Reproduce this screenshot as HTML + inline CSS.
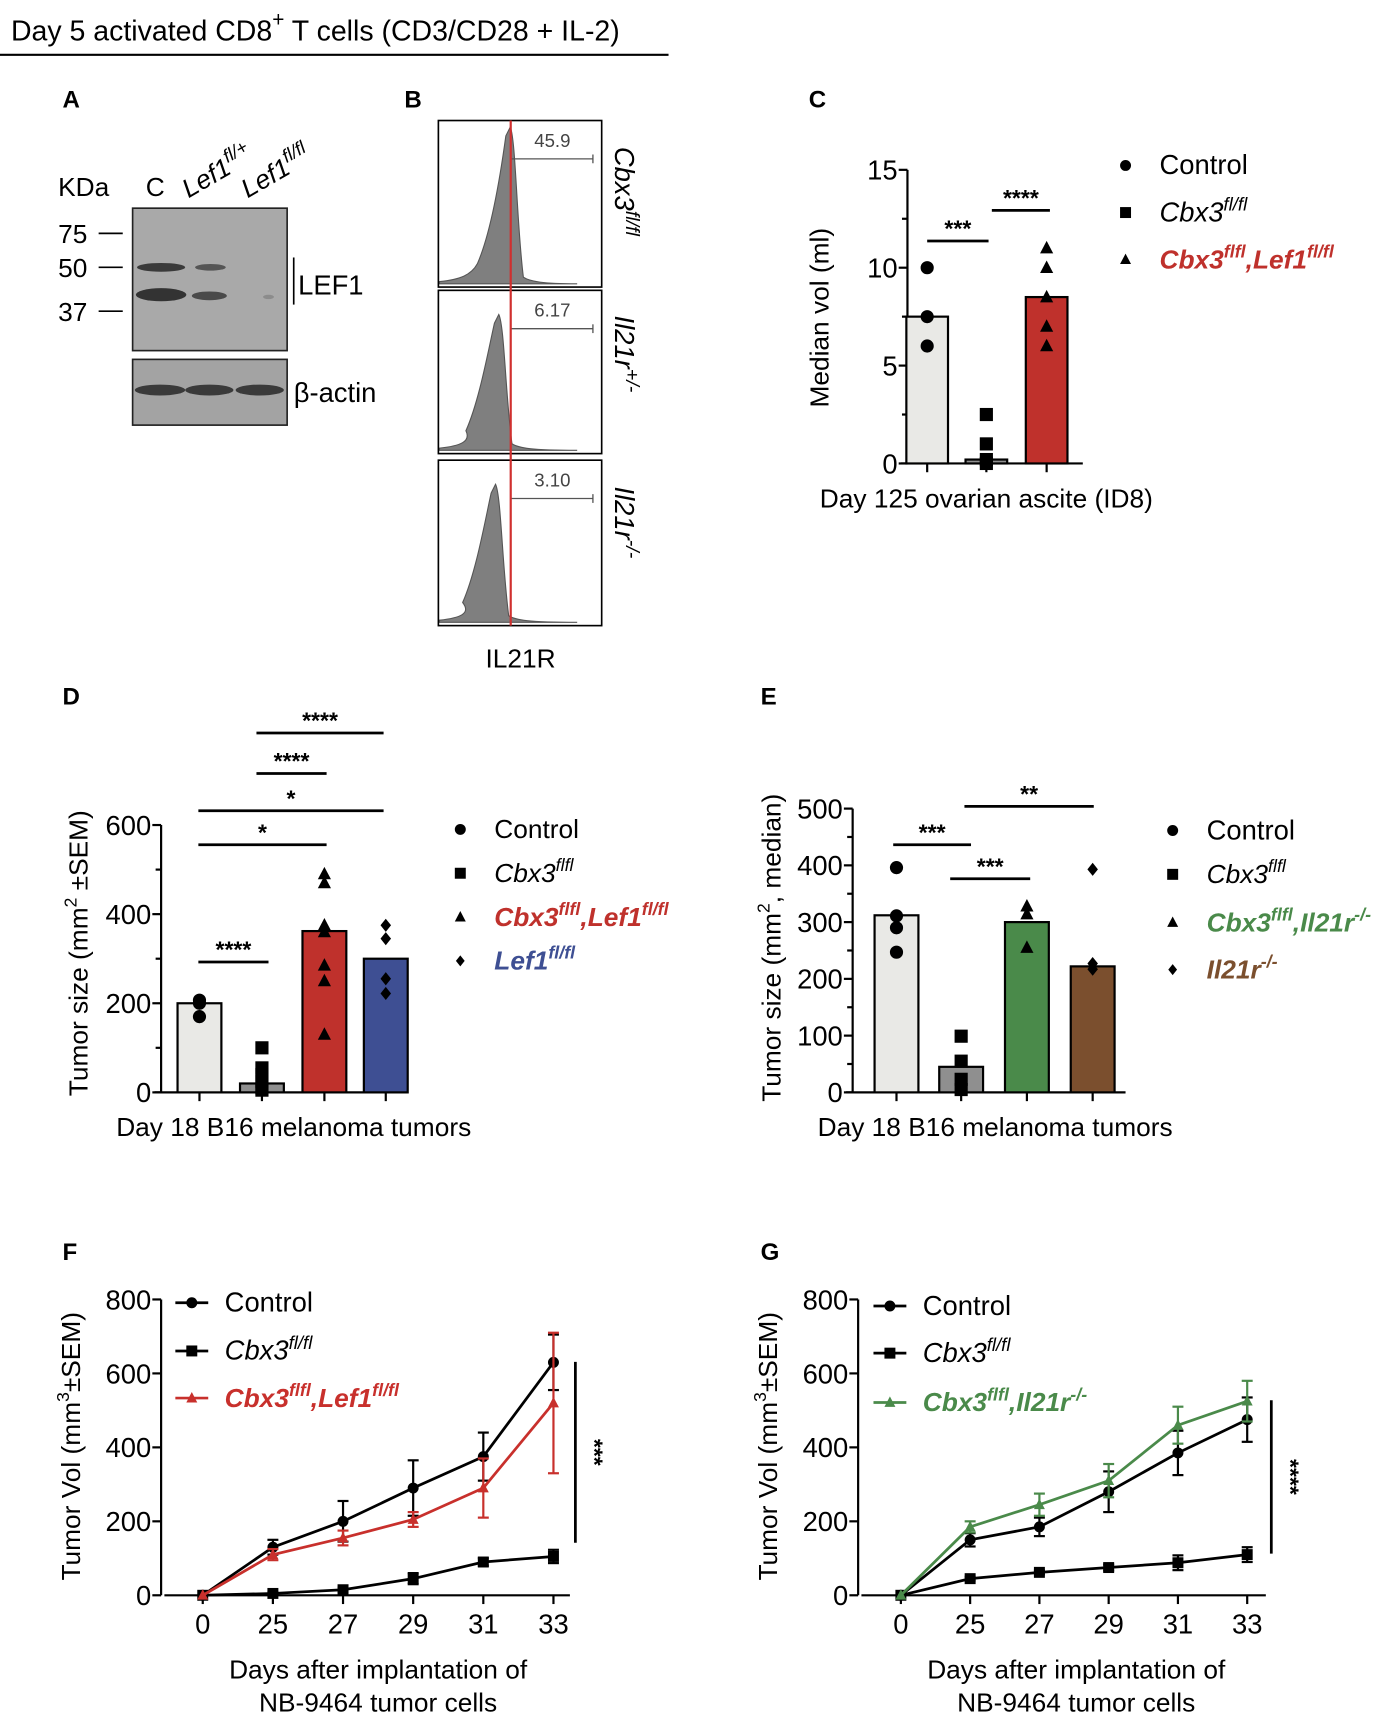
<!DOCTYPE html>
<html><head><meta charset="utf-8"><style>
html,body{margin:0;padding:0;background:#fff;}
svg{display:block;font-family:"Liberation Sans",Arial,sans-serif;}
</style></head><body>
<svg id="fig" width="1382" height="1718" viewBox="0 0 1261 1568" preserveAspectRatio="none" xmlns="http://www.w3.org/2000/svg">
<rect width="1261" height="1568" fill="#fff"/>
<g>
<text x="10" y="37" font-size="26">Day 5 activated CD8<tspan dy="-13" font-size="19">+</tspan><tspan dy="13"> T cells (CD3/CD28 + IL-2)</tspan></text>
<line x1="0" y1="50" x2="610" y2="50" stroke="#000" stroke-width="2"/>
</g>
<g>
<text x="57" y="98" font-size="22" font-weight="bold">A</text>
<text x="53" y="179" font-size="24">KDa</text>
<text x="133" y="179" font-size="24">C</text>
<text transform="translate(172,181) rotate(-30)" font-size="24" font-style="italic">Lef1<tspan dy="-10" font-size="17">fl/+</tspan></text>
<text transform="translate(226,181) rotate(-30)" font-size="24" font-style="italic">Lef1<tspan dy="-10" font-size="17">fl/fl</tspan></text>
<rect x="121" y="190" width="141" height="130" fill="#a9a9a9" stroke="#222" stroke-width="1.5"/>
<ellipse cx="147" cy="244" rx="22" ry="4" fill="#3a3a3a"/>
<ellipse cx="192" cy="244" rx="14" ry="3" fill="#555"/>
<ellipse cx="147" cy="269" rx="23" ry="6" fill="#333"/>
<ellipse cx="191" cy="270" rx="16" ry="4" fill="#4a4a4a"/>
<ellipse cx="245" cy="271" rx="5" ry="2" fill="#8c8c8c"/>
<rect x="121" y="328" width="141" height="60" fill="#a3a3a3" stroke="#222" stroke-width="1.5"/>
<ellipse cx="146" cy="356" rx="23" ry="5" fill="#3a3a3a"/>
<ellipse cx="191" cy="356" rx="22" ry="5" fill="#3a3a3a"/>
<ellipse cx="237" cy="356" rx="22" ry="5" fill="#3a3a3a"/>
<text x="53" y="222" font-size="24">75</text>
<text x="53" y="253" font-size="24">50</text>
<text x="53" y="293" font-size="24">37</text>
<line x1="90" y1="213" x2="112" y2="213" stroke="#000" stroke-width="1.5"/>
<line x1="90" y1="244" x2="112" y2="244" stroke="#000" stroke-width="1.5"/>
<line x1="90" y1="284" x2="112" y2="284" stroke="#000" stroke-width="1.5"/>
<line x1="268" y1="235" x2="268" y2="278" stroke="#000" stroke-width="1.5"/>
<text x="272" y="269" font-size="25">LEF1</text>
<text x="268" y="367" font-size="25">β-actin</text>
</g>
<g id="panelB">
<text x="369" y="98" font-size="22" font-weight="bold">B</text>
<text x="475" y="609" font-size="24" text-anchor="middle">IL21R</text>
</g>
<g id="panelC">
<text x="738" y="98" font-size="22" font-weight="bold">C</text>
</g>
<g id="panelD">
<text x="57" y="643" font-size="22" font-weight="bold">D</text>
</g>
<g id="panelE">
<text x="694" y="643" font-size="22" font-weight="bold">E</text>
</g>
<g id="panelF">
<text x="57" y="1150" font-size="22" font-weight="bold">F</text>
</g>
<g id="panelG">
<text x="694" y="1150" font-size="22" font-weight="bold">G</text>
</g>
</svg>
<script>
// ---------- Data ----------
const histPercents = ["45.9", "6.17", "3.10"];
const histPeakPos = [0.44, 0.37, 0.35];
const histGenotypes = ["Cbx3", "Il21r", "Il21r"];

const cCategories = ["Control", "Cbx3 fl/fl", "Cbx3 fl/fl, Lef1 fl/fl"];
const cBarValues = [7.5, 0.2, 8.5];
const cPoints = [[10, 7.5, 6], [2.5, 1, 0.2, 0], [11, 10, 8.5, 7, 6]];
const cTicks = [0, 5, 10, 15];

const dCategories = ["Control", "Cbx3 fl/fl", "Cbx3 fl/fl, Lef1 fl/fl", "Lef1 fl/fl"];
const dBarValues = [200, 20, 362, 300];
const dPoints = [[207, 200, 170], [100, 55, 40, 25, 10, 5], [490, 470, 375, 360, 285, 250, 130], [375, 345, 255, 222]];
const dTicks = [0, 200, 400, 600];

const eCategories = ["Control", "Cbx3 fl/fl", "Cbx3 fl/fl, Il21r-/-", "Il21r-/-"];
const eBarValues = [312, 45, 300, 222];
const ePoints = [[396, 311, 290, 247], [99, 55, 23, 5], [328, 314, 255], [393, 227, 217]];
const eTicks = [0, 100, 200, 300, 400, 500];

const days = [0, 25, 27, 29, 31, 33];
const fControl = [0, 130, 200, 290, 375, 630];
const fControlErr = [0, 20, 55, 75, 65, 75];
const fCbx3 = [0, 5, 15, 45, 90, 105];
const fCbx3Err = [0, 3, 5, 15, 10, 18];
const fDouble = [0, 110, 155, 205, 290, 520];
const fDoubleErr = [0, 15, 20, 20, 80, 190];
const gControl = [0, 150, 185, 280, 385, 475];
const gControlErr = [0, 18, 25, 55, 60, 60];
const gCbx3 = [0, 45, 62, 75, 88, 110];
const gCbx3Err = [0, 5, 5, 8, 20, 20];
const gDouble = [0, 185, 245, 310, 460, 525];
const gDoubleErr = [0, 15, 30, 45, 50, 55];
const lineTicks = [0, 200, 400, 600, 800];

// ---------- Helpers ----------
const NS = "http://www.w3.org/2000/svg";
function mk(tag, attrs, parent) {
  const e = document.createElementNS(NS, tag);
  for (const k in attrs) e.setAttribute(k, attrs[k]);
  parent.appendChild(e);
  return e;
}
function ln(p, x1, y1, x2, y2, sw, col) {
  const l = mk("line", {x1: x1, y1: y1, x2: x2, y2: y2, stroke: col || "#000", "stroke-width": sw || 2}, p);
  
  
  return l;
}
function txt(p, x, y, s, size, anchor) {
  const t = mk("text", {x: x, y: y, "font-size": size || 22, "text-anchor": anchor || "start"}, p);
  t.textContent = s;
  return t;
}
function marker(p, shape, x, y, s, col) {
  s = s || 6; col = col || "#000";
  let m;
  if (shape === "circle") m = mk("circle", {cx: x, cy: y, r: s, fill: col}, p);
  else if (shape === "square") m = mk("rect", {x: x - s, y: y - s, width: 2 * s, height: 2 * s, fill: col}, p);
  else if (shape === "triangle") m = mk("polygon", {points: `${x},${y - s * 1.1} ${x - s},${y + s * 0.8} ${x + s},${y + s * 0.8}`, fill: col}, p);
  else m = mk("polygon", {points: `${x},${y - s} ${x + s * 0.8},${y} ${x},${y + s} ${x - s * 0.8},${y}`, fill: col}, p);
  return m;
}
function richText(p, x, y, parts, opts) {
  const sz = opts.size || 24;
  const t = mk("text", {x: x, y: y, "font-size": sz, fill: opts.color || "#000"}, p);
  if (opts.italic) t.setAttribute("font-style", "italic");
  if (opts.bold) t.setAttribute("font-weight", "bold");
  parts.forEach(pt => {
    const a = mk("tspan", {}, t); a.textContent = pt[0];
    if (pt[1]) {
      const s = mk("tspan", {dy: -10, "font-size": sz * 0.68}, t); s.textContent = pt[1];
      const r = mk("tspan", {dy: 10}, t); r.textContent = "\u200b";
    }
  });
  return t;
}

// ---------- Panel B histograms ----------
(function () {
  const g = document.getElementById("panelB");
  const boxes = [[110, 262], [265, 414], [420, 571]];
  const bx0 = 400, bx1 = 549;
  boxes.forEach((b, i) => {
    const [y0, y1] = b;
    const w = bx1 - bx0, h = y1 - y0;
    const peak = bx0 + histPeakPos[i] * w;
    const base = y1 - 3;
    const top = y0 + (i === 0 ? 6 : 22);
    const d = `M${bx0 + 1},${base - 2} C${bx0 + 20},${base - 4} ${bx0 + 30},${base - 8} ${peak - 30},${base - h * 0.12} C${peak - 18},${base - h * 0.3} ${peak - 10},${base - h * 0.6} ${peak - 4},${top + 8} L${peak},${top} C${peak + 5},${top + 10} ${peak + 6},${base - h * 0.35} ${peak + 12},${base - 6} C${peak + 18},${base - 2} ${peak + 30},${base} ${bx0 + w * 0.85},${base} L${bx0 + 1},${base} Z`;
    const path = mk("path", {d: d, fill: "#7f7f7f", stroke: "#555", "stroke-width": 1}, g);
    
    
    const r = mk("rect", {x: bx0, y: y0, width: w, height: h, fill: "none", stroke: "#000", "stroke-width": 1.5}, g);
    
    
    ln(g, 466, y0 + 35, 541, y0 + 35, 1.2, "#555");
    ln(g, 541, y0 + 31, 541, y0 + 39, 1.2, "#555");
    const pt = txt(g, 504, y0 + 24, histPercents[i], 17, "middle");
    pt.setAttribute("fill", "#444");
    
    
  });
  ln(g, 466, 110, 466, 571, 2, "#d0302f");
  const labels = [["Cbx3", "fl/fl"], ["Il21r", "+/-"], ["Il21r", "-/-"]];
  const cy = [186, 340, 496];
  labels.forEach((l, i) => {
    const t = mk("text", {transform: `translate(561,${cy[i] - 52}) rotate(90)`, "font-size": 25, "font-style": "italic"}, g);
    const a = mk("tspan", {}, t); a.textContent = l[0];
    const s = mk("tspan", {dy: -10, "font-size": 18}, t); s.textContent = l[1];
    
    
  });
})();

// ---------- Bar charts ----------
function barChart(g, cfg, cats, vals, pts, ticks) {
  const ys = v => cfg.y0 - (v - ticks[0]) / (ticks[ticks.length - 1] - ticks[0]) * (cfg.y0 - cfg.yTop);
  ln(g, cfg.ax, cfg.yTop, cfg.ax, cfg.y0, 2);
  ln(g, cfg.ax - 6, cfg.y0, cfg.xEnd, cfg.y0, 2);
  ticks.forEach((t, i) => {
    ln(g, cfg.ax - 8, ys(t), cfg.ax, ys(t), 2);
    const tl = txt(g, cfg.ax - 9, ys(t) + 9, String(t), 25, "end");
    
    
    if (i < ticks.length - 1) {
      const mid = (t + ticks[i + 1]) / 2;
      ln(g, cfg.ax - 5, ys(mid), cfg.ax, ys(mid), 2);
    }
  });
  cats.forEach((c, i) => {
    const cx = cfg.centers[i];
    const bar = mk("rect", {x: cx - cfg.bw / 2, y: ys(vals[i]), width: cfg.bw, height: cfg.y0 - ys(vals[i]), fill: cfg.colors[i], stroke: "#000", "stroke-width": 2}, g);
    
    
    ln(g, cx, cfg.y0, cx, cfg.y0 + 8, 2);
    pts[i].forEach(v => {
      const m = marker(g, cfg.shapes[i], cx, ys(v), 6);
      
      
    });
  });
  cfg.legend.forEach((L, i) => {
    const yy = cfg.legY[i];
    const m = marker(g, cfg.shapes[i], cfg.legX, yy - 8, 5);
    
    
    const t = richText(g, cfg.legX + 31, yy, L.parts, L);
    
    
  });
  cfg.sig.forEach(s => {
    ln(g, s[0], s[2], s[1], s[2], 2.5);
    const st = txt(g, (s[0] + s[1]) / 2, s[2] - 4, s[3], 21, "middle");
    st.setAttribute("font-weight", "bold");
    
    
  });
  const xl = txt(g, cfg.xlab[0], cfg.xlab[1], cfg.xlab[2], 24, "middle");
  
  
  const yl = mk("text", {transform: `translate(${cfg.ylab[0]},${cfg.ylab[1]}) rotate(-90)`, "font-size": 24, "text-anchor": "middle"}, g);
  yl.innerHTML = cfg.ylab[2];
  
  
}

barChart(document.getElementById("panelC"), {
  ax: 828, y0: 423, yTop: 155, xEnd: 988, centers: [846, 900, 955], bw: 38,
  colors: ["#e9e9e6", "#8f8f8f", "#bf312c"], shapes: ["circle", "square", "triangle"],
  legX: 1027, legY: [159, 202, 245],
  legend: [{parts: [["Control"]], size: 25}, {parts: [["Cbx3", "fl/fl"]], italic: true, size: 25}, {parts: [["Cbx3", "flfl"], [",Lef1", "fl/fl"]], italic: true, bold: true, color: "#bf312c", size: 24}],
  sig: [[846, 902, 220, "***"], [905, 958, 192, "****"]],
  xlab: [900, 463, "Day 125 ovarian ascite (ID8)"],
  ylab: [756, 290, "Median vol (ml)"]
}, cCategories, cBarValues, cPoints, cTicks);

barChart(document.getElementById("panelD"), {
  ax: 147, y0: 997, yTop: 753, xEnd: 372, centers: [182, 239, 296, 352], bw: 40,
  colors: ["#e9e9e6", "#8f8f8f", "#bf312c", "#3e4f93"], shapes: ["circle", "square", "triangle", "diamond"],
  legX: 420, legY: [765, 805, 845, 885],
  legend: [{parts: [["Control"]]}, {parts: [["Cbx3", "flfl"]], italic: true}, {parts: [["Cbx3", "flfl"], [",Lef1", "fl/fl"]], italic: true, bold: true, color: "#bf312c"}, {parts: [["Lef1", "fl/fl"]], italic: true, bold: true, color: "#3e4f93"}],
  sig: [[181, 245, 878, "****"], [181, 298, 771, "*"], [181, 350, 740, "*"], [234, 298, 706, "****"], [234, 350, 669, "****"]],
  xlab: [268, 1037, "Day 18 B16 melanoma tumors"],
  ylab: [80, 870, "Tumor size (mm<tspan dy='-10' font-size='16'>2</tspan><tspan dy='10'> ±SEM)</tspan>"]
}, dCategories, dBarValues, dPoints, dTicks);

barChart(document.getElementById("panelE"), {
  ax: 778, y0: 997, yTop: 738, xEnd: 1027, centers: [818, 877, 937, 997], bw: 40,
  colors: ["#e9e9e6", "#8f8f8f", "#4a8a4a", "#7b4f2e"], shapes: ["circle", "square", "triangle", "diamond"],
  legX: 1070, legY: [766, 806, 850, 893],
  legend: [{parts: [["Control"]], size: 25}, {parts: [["Cbx3", "flfl"]], italic: true, size: 24}, {parts: [["Cbx3", "flfl"], [",Il21r", "-/-"]], italic: true, bold: true, color: "#4a8a4a", size: 24}, {parts: [["Il21r", "-/-"]], italic: true, bold: true, color: "#7b4f2e", size: 24}],
  sig: [[815, 886, 771, "***"], [867, 940, 802, "***"], [880, 998, 736, "**"]],
  xlab: [908, 1037, "Day 18 B16 melanoma tumors"],
  ylab: [712, 865, "Tumor size (mm<tspan dy='-10' font-size='16'>2</tspan><tspan dy='10'>, median)</tspan>"]
}, eCategories, eBarValues, ePoints, eTicks);

// ---------- Line charts ----------
function lineChart(g, cfg, series) {
  const ys = v => cfg.y0 - v / lineTicks[lineTicks.length - 1] * (cfg.y0 - cfg.yTop);
  const xs = i => cfg.x0 + i * cfg.dx;
  ln(g, cfg.ax, cfg.yTop, cfg.ax, cfg.y0, 2);
  ln(g, cfg.ax + 3, cfg.y0, cfg.xEnd, cfg.y0, 2);
  lineTicks.forEach(t => {
    ln(g, cfg.ax - 8, ys(t), cfg.ax, ys(t), 2);
    const tl = txt(g, cfg.ax - 9, ys(t) + 9, String(t), 25, "end");
    
    
  });
  days.forEach((d, i) => {
    ln(g, xs(i), cfg.y0, xs(i), cfg.y0 + 8, 2);
    const tl = txt(g, xs(i), cfg.y0 + 35, String(d), 25, "middle");
    
    
  });
  series.forEach((s, k) => {
    const pts = s.vals.map((v, i) => `${xs(i)},${ys(v)}`).join(" ");
    const pl = mk("polyline", {points: pts, fill: "none", stroke: s.color, "stroke-width": 2.5}, g);
    
    
    s.vals.forEach((v, i) => {
      const e = s.err[i];
      if (e > 0) {
        ln(g, xs(i), ys(v - e), xs(i), ys(v + e), 2, s.color);
        ln(g, xs(i) - 5, ys(v + e), xs(i) + 5, ys(v + e), 2, s.color);
        ln(g, xs(i) - 5, ys(v - e), xs(i) + 5, ys(v - e), 2, s.color);
      }
      const m = marker(g, s.shape, xs(i), ys(v), 5, s.color);
      
      
    });
    const ly = cfg.legY[k];
    ln(g, cfg.legX, ly - 8, cfg.legX + 30, ly - 8, 2.5, s.color);
    marker(g, s.shape, cfg.legX + 15, ly - 8, 5, s.color);
    const t = richText(g, cfg.legX + 45, ly, s.label, s);
    
    
  });
  ln(g, cfg.sig[0], cfg.sig[1], cfg.sig[0], cfg.sig[2], 2.5);
  const st = mk("text", {transform: `translate(${cfg.sig[0] + 10},${(cfg.sig[1] + cfg.sig[2]) / 2}) rotate(90)`, "font-size": 21, "font-weight": "bold", "text-anchor": "middle"}, g);
  st.textContent = cfg.sig[3];
  
  
  const x1 = txt(g, cfg.xc, 1532, "Days after implantation of", 24, "middle");
  
  
  const x2 = txt(g, cfg.xc, 1562, "NB-9464 tumor cells", 24, "middle");
  
  
  const yl = mk("text", {transform: `translate(${cfg.ax - 74},1320) rotate(-90)`, "font-size": 24, "text-anchor": "middle"}, g);
  yl.innerHTML = "Tumor Vol (mm<tspan dy='-10' font-size='16'>3</tspan><tspan dy='10'>±SEM)</tspan>";
  
  
}

lineChart(document.getElementById("panelF"), {
  ax: 147, y0: 1456, yTop: 1186, x0: 185, dx: 64, xEnd: 520, legX: 160, legY: [1197, 1241, 1284],
  sig: [525, 1243, 1408, "***"], xc: 345
}, [
  {vals: fControl, err: fControlErr, color: "#000", shape: "circle", label: [["Control"]], size: 25},
  {vals: fCbx3, err: fCbx3Err, color: "#000", shape: "square", label: [["Cbx3", "fl/fl"]], italic: true, size: 25},
  {vals: fDouble, err: fDoubleErr, color: "#c8302c", shape: "triangle", label: [["Cbx3", "flfl"], [",Lef1", "fl/fl"]], italic: true, bold: true, size: 24}
]);

lineChart(document.getElementById("panelG"), {
  ax: 783, y0: 1456, yTop: 1186, x0: 822, dx: 63.2, xEnd: 1155, legX: 797, legY: [1200, 1243, 1288],
  sig: [1160, 1278, 1418, "****"], xc: 982
}, [
  {vals: gControl, err: gControlErr, color: "#000", shape: "circle", label: [["Control"]], size: 25},
  {vals: gCbx3, err: gCbx3Err, color: "#000", shape: "square", label: [["Cbx3", "fl/fl"]], italic: true, size: 25},
  {vals: gDouble, err: gDoubleErr, color: "#4a8a4a", shape: "triangle", label: [["Cbx3", "flfl"], [",Il21r", "-/-"]], italic: true, bold: true, size: 24}
]);
</script>
</body></html>
